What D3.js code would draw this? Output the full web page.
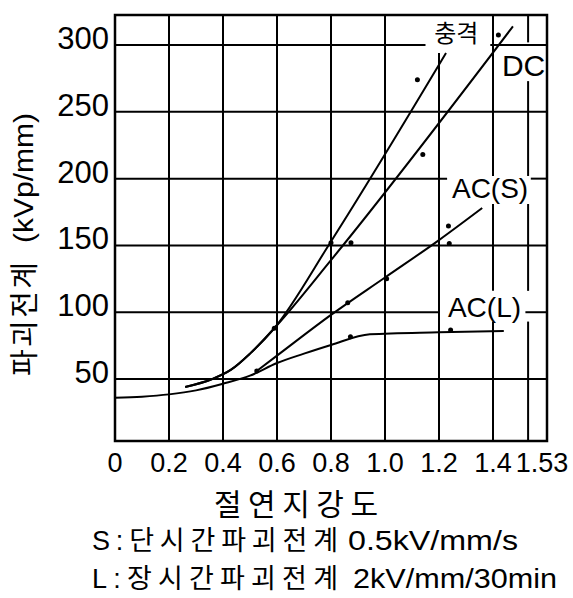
<!DOCTYPE html>
<html>
<head>
<meta charset="utf-8">
<script src="https://cdn.jsdelivr.net/npm/d3@7"></script>
<style>
  body { margin: 0; background: #fff; }
  text { font-family: "Liberation Sans", "Noto Sans CJK KR", sans-serif; fill: #000; }
</style>
</head>
<body>
<svg id="chart"></svg>
<script>
// tick values / labels
const xTicks = [0, 0.2, 0.4, 0.6, 0.8, 1.0, 1.2, 1.4, 1.53];
const xTickLabels = ['0', '0.2', '0.4', '0.6', '0.8', '1.0', '1.2', '1.4', '1.53'];
const yTicks = [50, 100, 150, 200, 250, 300];

// curves [x, y]
const impulseLine = [[0.26, 44], [0.36, 50], [0.43, 57], [0.5, 69], [0.59, 88], [0.8, 153], [1.226, 294]];
const dcLine = [[0.26, 44], [0.36, 50], [0.43, 57], [0.5, 69], [0.59, 88], [0.8, 139], [1.474, 314]];
const acShortLine = [[0.525, 56], [0.6, 67.5], [0.8, 98], [1.0, 126], [1.2, 154], [1.36, 178]];
const acLongLine = [[0, 36], [0.1, 36.8], [0.2, 38.5], [0.3, 41.5], [0.4, 46.5], [0.5, 52.5], [0.6, 62], [0.7, 69], [0.8, 75.5], [0.944, 83.5], [1.2, 85], [1.44, 86]];

// measured points
const impulseDots = [[0.59, 88], [0.8, 152], [1.12, 274]];
const dcDots = [[0.874, 152], [1.14, 218], [1.42, 307.5]];
const acShortDots = [[0.525, 56], [0.862, 107], [1.006, 125], [1.238, 151.5], [1.235, 164.5]];
const acLongDots = [[0.872, 81.7], [1.243, 86.7]];

const seriesNames = ['충격', 'DC', 'AC(S)', 'AC(L)'];

const W = 573, H = 598;
const svg = d3.select('#chart').attr('width', W).attr('height', H);

const x = d3.scaleLinear().domain([0, 1.6]).range([115, 547]);
const y = d3.scaleLinear().domain([3.6, 322.5]).range([441, 15]);

// gaps in gridlines where the labels sit
const hGaps = { 300: [1.15, 1.39], 200: [1.23, 1.54], 100: [1.2, 1.52] };
const vGaps = { 1.2: [[294, 330]], 1.4: [[181, 202], [93, 116]], 1.53: [[273, 302], [181, 202], [93, 116]] };

const grid = svg.append('g').attr('stroke', '#000').attr('stroke-width', 2);

yTicks.forEach(v => {
  const [x0, x1] = x.domain();
  const segs = hGaps[v] ? [[x0, hGaps[v][0]], [hGaps[v][1], x1]] : [[x0, x1]];
  segs.forEach(s => grid.append('line')
    .attr('x1', x(s[0])).attr('x2', x(Math.min(s[1], x1)))
    .attr('y1', y(v)).attr('y2', y(v)));
});

xTicks.slice(1).forEach(v => {
  const [y0, y1] = y.domain();
  let segs = [[y0, y1]];
  (vGaps[v] || []).forEach(g => {
    segs = segs.flatMap(s => (g[0] >= s[1] || g[1] <= s[0]) ? [s] : [[s[0], g[0]], [g[1], s[1]]].filter(t => t[1] > t[0]));
  });
  segs.forEach(s => grid.append('line')
    .attr('x1', x(v)).attr('x2', x(v))
    .attr('y1', y(s[0])).attr('y2', y(Math.min(s[1], y1))));
});

// frame
svg.append('rect')
  .attr('x', x(0)).attr('y', y(322.5))
  .attr('width', x(1.6) - x(0)).attr('height', y(3.6) - y(322.5))
  .attr('fill', 'none').attr('stroke', '#000').attr('stroke-width', 2.5);

// curves
const line = d3.line().x(d => x(d[0])).y(d => y(d[1])).curve(d3.curveMonotoneX);
[impulseLine, dcLine, acShortLine, acLongLine].forEach(data => {
  svg.append('path').datum(data)
    .attr('fill', 'none').attr('stroke', '#000').attr('stroke-width', 2)
    .attr('d', line);
});

// dots
[impulseDots, dcDots, acShortDots, acLongDots].forEach(data => {
  svg.append('g').selectAll('circle').data(data).enter().append('circle')
    .attr('cx', d => x(d[0])).attr('cy', d => y(d[1]))
    .attr('r', 2.5).attr('fill', '#000');
});

// series labels
const labelPos = [[1.182, 302.3, 24], [1.433, 276.8, 30], [1.248, 185.5, 28], [1.233, 96.4, 28]];
seriesNames.forEach((name, i) => {
  svg.append('text')
    .attr('x', x(labelPos[i][0])).attr('y', y(labelPos[i][1]))
    .attr('font-size', labelPos[i][2])
    .text(name);
});

// tick labels
svg.append('g').selectAll('text').data(xTicks).enter().append('text')
  .attr('x', (d, i) => x(d) + (i === xTicks.length - 1 ? 14 : 0))
  .attr('y', 472)
  .attr('text-anchor', 'middle')
  .attr('font-size', 27)
  .text((d, i) => xTickLabels[i]);

svg.append('g').selectAll('text').data(yTicks).enter().append('text')
  .attr('x', 109)
  .attr('y', d => y(d) + 4)
  .attr('text-anchor', 'end')
  .attr('font-size', 31)
  .text(d => d);

// axis titles
const yTitle = svg.append('g').attr('transform', 'translate(35,0) rotate(-90)');
yTitle.append('text')
  .attr('x', -376).attr('y', 0)
  .attr('font-size', 29)
  .attr('textLength', 114).attr('lengthAdjust', 'spacing')
  .text('파괴전계');
yTitle.append('text')
  .attr('x', -243).attr('y', -2)
  .attr('font-size', 28)
  .attr('textLength', 130).attr('lengthAdjust', 'spacingAndGlyphs')
  .text('(kVp/mm)');

svg.append('text')
  .attr('x', 214).attr('y', 515)
  .attr('font-size', 30)
  .attr('textLength', 164).attr('lengthAdjust', 'spacing')
  .text('절연지강도');

const notes = [
  ['S:단시간파괴전계', '0.5kV/mm/s', 550, 348, 170],
  ['L:장시간파괴전계', '2kV/mm/30min', 588, 353, 204]
];
notes.forEach(n => {
  svg.append('text')
    .attr('x', 92).attr('y', n[2])
    .attr('font-size', 27)
    .attr('textLength', 246).attr('lengthAdjust', 'spacing')
    .text(n[0]);
  svg.append('text')
    .attr('x', n[3]).attr('y', n[2])
    .attr('font-size', 27)
    .attr('textLength', n[4]).attr('lengthAdjust', 'spacingAndGlyphs')
    .text(n[1]);
});
</script>
</body>
</html>
